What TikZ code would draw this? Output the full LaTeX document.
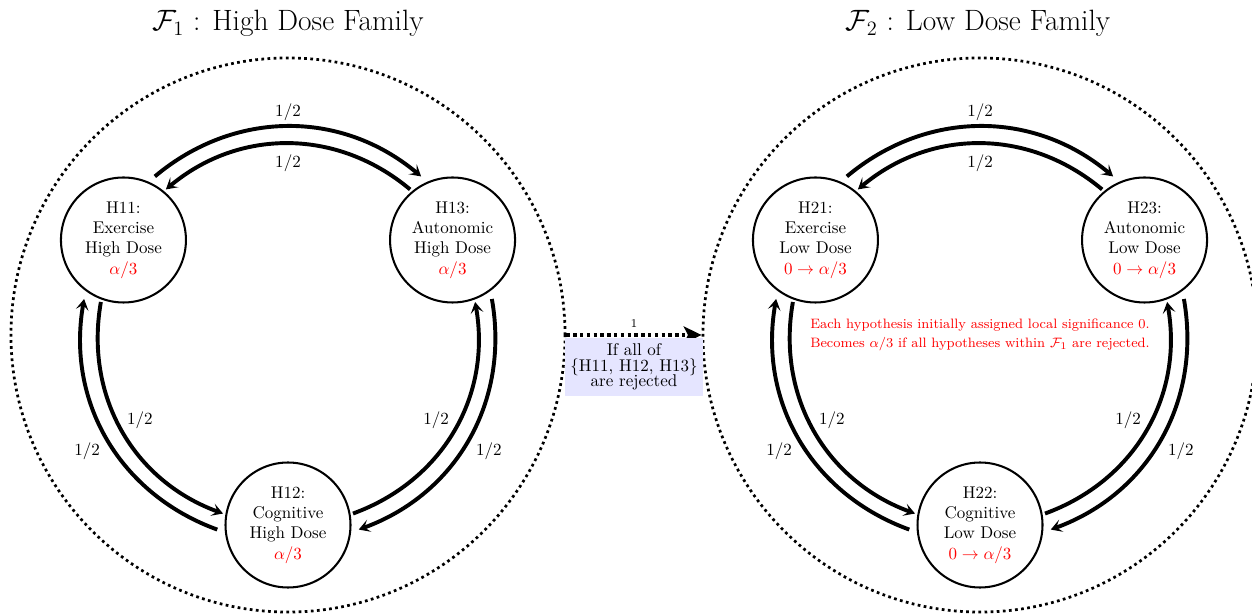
\documentclass[tikz,border=0pt]{standalone}
\usetikzlibrary{arrows.meta,calc}
\begin{document}
\begin{tikzpicture}[x=0.588pt,y=0.588pt,
  hyp/.style={circle, draw, very thick, minimum size=73.5pt, inner sep=0pt, align=center},
  fam/.style={circle, draw, ultra thick, dotted, minimum size=325.8pt, inner sep=0pt},
  arr/.style={-{Stealth[length=6.5pt,width=7.5pt,inset=3pt]}, line width=2.3pt},
  ttl/.style={font=\LARGE, anchor=base},
  note/.style={font=\footnotesize, text=red, align=center},
  cond/.style={fill=blue!10, align=center, inner sep=3.3pt}
]
\useasboundingbox (0,0) rectangle (1252,614);
\coordinate (C1) at (288,279);
\coordinate (C2) at (980,279);
\node[fam] (F1) at (C1) {};
\node[fam] (F2) at (C2) {};
\node[ttl] (T1) at (288,583) {$\mathcal{F}_1$ : High Dose Family};
\node[ttl] (T2) at (978,583) {$\mathcal{F}_2$ : Low Dose Family};
\node[hyp] (H11) at ($(C1)+(150:190)$) {H11:\\Exercise\\High Dose\\\textcolor{red}{$\alpha/3$}};
\node[hyp] (H13) at ($(C1)+(30:190)$) {H13:\\Autonomic\\High Dose\\\textcolor{red}{$\alpha/3$}};
\node[hyp] (H12) at ($(C1)+(270:190)$) {H12:\\Cognitive\\High Dose\\\textcolor{red}{$\alpha/3$}};
\node[hyp] (H21) at ($(C2)+(150:190)$) {H21:\\Exercise\\Low Dose\\\textcolor{red}{$0\rightarrow\alpha/3$}};
\node[hyp] (H23) at ($(C2)+(30:190)$) {H23:\\Autonomic\\Low Dose\\\textcolor{red}{$0\rightarrow\alpha/3$}};
\node[hyp] (H22) at ($(C2)+(270:190)$) {H22:\\Cognitive\\Low Dose\\\textcolor{red}{$0\rightarrow\alpha/3$}};
\foreach \f in {1,2} {
  \draw[arr] ([shift={(63.7:70.9)}]H\f1.center) to[bend left=40] ([shift={(116.3:70.9)}]H\f3.center);
  \draw[arr] ([shift={(130:66)}]H\f3.center) to[bend right=40] ([shift={(50:66)}]H\f1.center);
  \draw[arr] ([shift={(-56.3:70.9)}]H\f3.center) to[bend left=40] ([shift={(-3.7:70.9)}]H\f2.center);
  \draw[arr] ([shift={(10:66)}]H\f2.center) to[bend right=40] ([shift={(-70:66)}]H\f3.center);
  \draw[arr] ([shift={(183.7:70.9)}]H\f2.center) to[bend left=40] ([shift={(236.3:70.9)}]H\f1.center);
  \draw[arr] ([shift={(250:66)}]H\f1.center) to[bend right=40] ([shift={(170:66)}]H\f2.center);
  \node (L\f a) at ($(C\f)+(90:223)$) {$1/2$};
  \node (L\f b) at ($(C\f)+(90:172)$) {$1/2$};
  \node (L\f c) at ($(C\f)+(210:232)$) {$1/2$};
  \node (L\f d) at ($(C\f)+(210:171)$) {$1/2$};
  \node (L\f e) at ($(C\f)+(330:171)$) {$1/2$};
  \node (L\f f) at ($(C\f)+(330:232)$) {$1/2$};
}
\node[note] (N) at (C2) {Each hypothesis initially assigned local significance 0.\\[1.5pt]Becomes $\alpha/3$ if all hypotheses within $\mathcal{F}_1$ are rejected.};
\draw[line width=2pt, dotted, -{Stealth[length=10.5pt,width=10pt,inset=2.5pt]}] (F1.east) -- (F2.west)
  node[midway, above, font=\scriptsize] (W) {1}
  node[midway, below=1pt, cond] (B) {If all of\\[-3pt]\{H11, H12, H13\}\\[-3pt]are rejected};
\end{tikzpicture}
\end{document}
